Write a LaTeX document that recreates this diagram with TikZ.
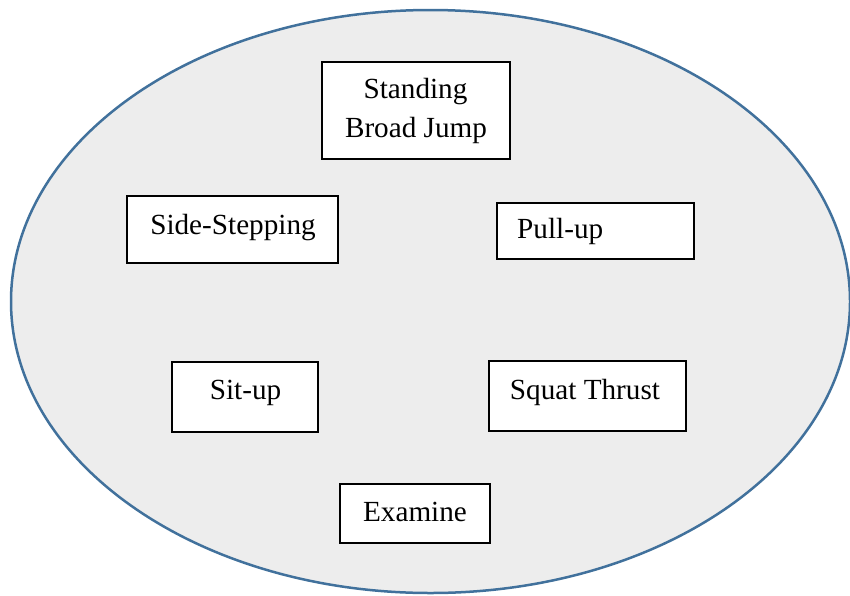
\documentclass[tikz,border=0pt]{standalone}
\usepackage{fontspec}
\setmainfont{Liberation Serif}
\begin{document}
\begin{tikzpicture}[x=1pt,y=-1pt,
  boxr/.style={draw=black,line width=1.2pt,fill=white,rectangle,inner sep=0pt},
  lbl/.style={anchor=base,inner sep=0pt,font=\fontsize{29.2}{38}\selectfont},
  lbll/.style={anchor=base west,inner sep=0pt,font=\fontsize{29.2}{38}\selectfont}]
\useasboundingbox (0,0) rectangle (850,595);
\definecolor{ellblue}{HTML}{41719C}
\definecolor{ellfill}{HTML}{EDEDED}
\draw[draw=ellblue,fill=ellfill,line width=2.5pt] (430.5,301.5) ellipse [x radius=419.5, y radius=291.5];
\node (ell) at (430.5,301.5) {};
% boxes
\node[boxr,minimum width=188pt,minimum height=97pt] (sbj) at (416,110.5) {};
\node[boxr,minimum width=211pt,minimum height=67pt] (ss) at (232.5,229.5) {};
\node[boxr,minimum width=197pt,minimum height=56pt] (pu) at (595.5,231) {};
\node[boxr,minimum width=146pt,minimum height=70pt] (su) at (245,397) {};
\node[boxr,minimum width=197pt,minimum height=70pt] (st) at (587.5,396) {};
\node[boxr,minimum width=150pt,minimum height=59pt] (ex) at (415,513.5) {};
% labels
\node[lbl] (t1) at (415.5,98) {Standing};
\node[lbl] (t2) at (416,137) {Broad Jump};
\node[lbl] (t3) at (233,234) {Side-Stepping};
\node[lbll] (t4) at (517,238) {Pull-up};
\node[lbl] (t5) at (245.5,399) {Sit-up};
\node[lbl] (t6) at (585,399) {Squat Thrust};
\node[lbl] (t7) at (415,521) {Examine};
\end{tikzpicture}
\end{document}
